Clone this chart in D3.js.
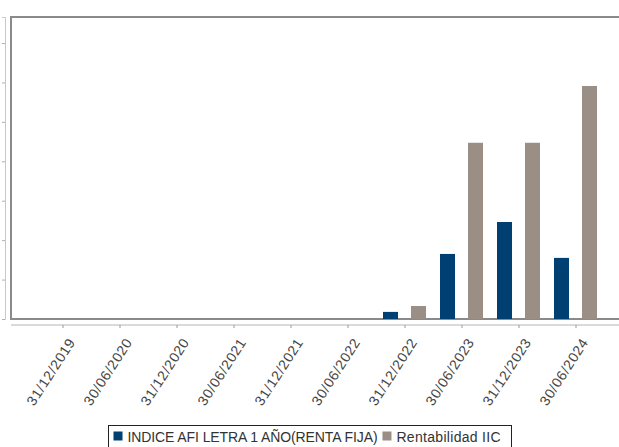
<!DOCTYPE html>
<html>
<head>
<meta charset="utf-8">
<script src="https://cdn.jsdelivr.net/npm/d3@7"></script>
<style>
  body { margin: 0; background: #fff; }
  svg { display: block; font-family: 'Liberation Sans', Arial, sans-serif; }
</style>
</head>
<body>
<svg id="chart" width="619" height="447"></svg>
<script>
const categories = ['31/12/2019', '30/06/2020', '31/12/2020', '30/06/2021', '31/12/2021',
    '30/06/2022', '31/12/2022', '30/06/2023', '31/12/2023', '30/06/2024']
const seriesNames = ['INDICE AFI LETRA 1 AÑO(RENTA FIJA)', 'Rentabilidad IIC']
const indiceValues = [0, 0, 0, 0, 0, 0, 0.18, 1.65, 2.46, 1.55]
const iicValues = [0, 0, 0, 0, 0, 0, 0.33, 4.47, 4.47, 5.91]
const yTicks = [0, 1, 2, 3, 4, 5, 6, 7]
const COLORS = ['#003f72', '#9b8e85']

const width = 619
const height = 447
const margin = { top: 17, right: -10, bottom: 128, left: 11 }
const baseY = height - margin.bottom

const data = categories.map((c, i) => ({ cat: c, values: [indiceValues[i], iicValues[i]] }))

const svg = d3.select('#chart')

const x = d3.scaleBand()
    .domain(categories)
    .range([34.5, 604.5])
    .paddingInner(0)

const x1 = d3.scaleBand()
    .domain([0, 1])
    .range([x.bandwidth() / 2 - 22, x.bandwidth() / 2 + 21])
    .paddingInner(0.464)

const y = d3.scaleLinear()
    .domain([0, 7.66])
    .range([baseY, margin.top])

const color = d3.scaleOrdinal().domain([0, 1]).range(COLORS)

// plot frame
svg.append('path')
    .attr('d', `M${width + 5},${margin.top}H${margin.left}V${baseY}H${width + 5}`)
    .attr('fill', 'none')
    .attr('stroke', '#8a8a8a')
    .attr('stroke-width', 2)

// y axis, its labels sit outside the picture in the original so only the ticks are kept
const yAxis = svg.append('g')
    .attr('transform', 'translate(5,0)')
    .call(d3.axisLeft(y).tickValues(yTicks).tickSize(3).tickFormat(''))
yAxis.select('.domain').attr('stroke', '#c8c8c8')
yAxis.selectAll('.tick line').attr('stroke', '#b0b0b0')

// bars
svg.append('g')
    .selectAll('g')
    .data(data)
    .join('g')
    .attr('transform', d => `translate(${x(d.cat)},0)`)
    .selectAll('rect')
    .data(d => d.values.map((v, k) => ({ k, v })))
    .join('rect')
    .attr('x', d => x1(d.k))
    .attr('width', x1.bandwidth())
    .attr('y', d => y(d.v))
    .attr('height', d => baseY - y(d.v))
    .attr('fill', d => color(d.k))

// x axis
const xAxis = svg.append('g')
    .attr('transform', `translate(0,${baseY + 6})`)
    .call(d3.axisBottom(x).tickSize(3).tickSizeOuter(0))
xAxis.select('.domain')
    .attr('d', `M${margin.left},0H${width + 5}`)
    .attr('stroke', '#b5b5b5')
xAxis.selectAll('.tick line').attr('stroke', '#999')
xAxis.selectAll('.tick text')
    .attr('fill', '#444')
    .style('font-size', '14px')
    .style('letter-spacing', '0.7px')
    .style('text-anchor', 'end')
    .attr('y', 0)
    .attr('dy', 0)
    .attr('transform', 'translate(13,17) rotate(-57)')

// legend
const legend = svg.append('g').attr('transform', 'translate(108.5,425.5)')
legend.append('rect')
    .attr('width', 403)
    .attr('height', 24)
    .attr('fill', '#fff')
    .attr('stroke', '#222')
let lx = 5
seriesNames.forEach((name, k) => {
    legend.append('rect')
        .attr('x', lx)
        .attr('y', 6)
        .attr('width', 9)
        .attr('height', 9)
        .attr('fill', COLORS[k])
    const t = legend.append('text')
        .attr('x', lx + 14)
        .attr('y', 16)
        .attr('fill', '#333')
        .style('font-size', '14px')
        .style('letter-spacing', k === 1 ? '0.3px' : '-0.1px')
        .text(name)
    lx += 14 + t.node().getComputedTextLength() + 5
})
</script>
</body>
</html>
